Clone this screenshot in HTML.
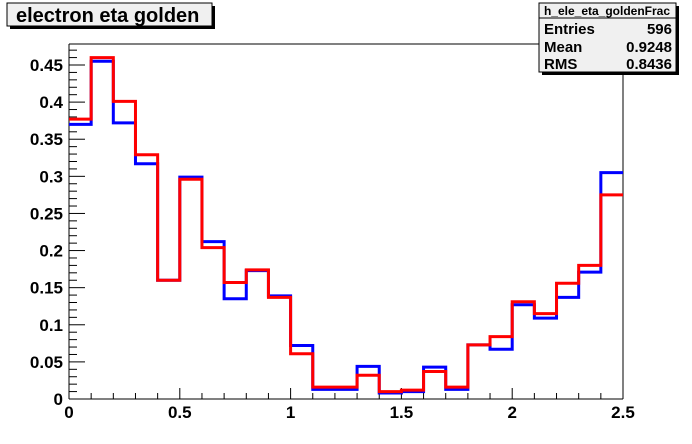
<!DOCTYPE html>
<html><head><meta charset="utf-8"><style>
body{margin:0;background:#fff;}
svg{display:block;font-family:"Liberation Sans",Arial,sans-serif;font-weight:bold;}
</style></head><body>
<svg width="692" height="444" viewBox="0 0 692 444">
<rect x="0" y="0" width="692" height="444" fill="#fff"/>
<g>
<line x1="69" y1="44" x2="623" y2="44" stroke="#000" stroke-width="1"/>
<line x1="623" y1="44" x2="623" y2="399" stroke="#000" stroke-width="1"/>
<line x1="69" y1="44" x2="69" y2="399" stroke="#000" stroke-width="1"/>
<line x1="69" y1="399" x2="623" y2="399" stroke="#000" stroke-width="1"/>
</g>
<g id="axes"></g>
<g id="series"></g>
<g>
<rect x="10" y="6" width="205" height="23" fill="#000"/>
<rect x="7" y="3" width="205" height="23" fill="#f0f0f0" stroke="#000" stroke-width="1"/>
<text x="16" y="22" font-size="20" fill="#000">electron eta golden</text>
</g>
<g>
<rect x="542" y="6" width="137" height="69" fill="#000"/>
<rect x="539" y="3" width="137" height="69" fill="#f0f0f0" stroke="#000" stroke-width="1"/>
<line x1="539" y1="18" x2="676" y2="18" stroke="#000"/>
<text x="607" y="15" font-size="12" text-anchor="middle">h_ele_eta_goldenFrac</text>
<text x="544" y="34" font-size="15">Entries</text>
<text x="672" y="34" font-size="15" text-anchor="end">596</text>
<text x="544" y="52" font-size="15">Mean</text>
<text x="672" y="52" font-size="15" text-anchor="end">0.9248</text>
<text x="544" y="69" font-size="15">RMS</text>
<text x="672" y="69" font-size="15" text-anchor="end">0.8436</text>
</g>
</svg>
<script>
const binEdgesStart = 0;
const binWidth = 0.1;
const blueValues = [0.37,0.455,0.372,0.317,0.16,0.299,0.212,0.135,0.173,0.139,0.072,0.013,0.013,0.044,0.008,0.01,0.043,0.013,0.073,0.067,0.127,0.109,0.137,0.171,0.305];
const redValues = [0.377,0.46,0.401,0.329,0.16,0.296,0.204,0.157,0.174,0.137,0.061,0.016,0.016,0.032,0.010,0.012,0.037,0.016,0.073,0.084,0.131,0.115,0.156,0.18,0.275];
const xTickLabels = ["0","0.5","1","1.5","2","2.5"];
const yTickLabels = ["0","0.05","0.1","0.15","0.2","0.25","0.3","0.35","0.4","0.45"];
const NS="http://www.w3.org/2000/svg";
const X0=69,X1=623,Y0=399,Y1=65;
function xs(v){return X0+(v-0)/2.5*(X1-X0);}
function ys(v){return Y0-v/0.45*(Y0-Y1);}
function mk(t,a){const e=document.createElementNS(NS,t);for(const k in a)e.setAttribute(k,a[k]);return e;}
const axes=document.getElementById('axes');
for(let i=0;i<=25;i++){
  const v=i*0.1, major=i%5===0;
  const l=mk('line',{x1:xs(v),x2:xs(v),y1:Y0,y2:Y0-(major?11:6),stroke:'#000'});
  
  
  axes.appendChild(l);
}
xTickLabels.forEach(s=>{
  const t=mk('text',{x:xs(parseFloat(s)),y:418,'font-size':17,'text-anchor':'middle'});
  t.textContent=s;
  
  
  axes.appendChild(t);
});
for(let i=0;i<=47;i++){
  const v=i*0.01; if(ys(v)<44) break;
  const major=i%5===0;
  const l=mk('line',{x1:X0,x2:X0+(major?16:8),y1:ys(v),y2:ys(v),stroke:'#000'});
  
  
  axes.appendChild(l);
}
yTickLabels.forEach(s=>{
  const t=mk('text',{x:63,y:ys(parseFloat(s))+6,'font-size':17,'text-anchor':'end'});
  t.textContent=s;
  
  
  axes.appendChild(t);
});
function stepPath(vals){
  let d='M'+xs(binEdgesStart)+','+ys(vals[0]);
  vals.forEach((v,i)=>{
    const a=binEdgesStart+i*binWidth;
    d+=' L'+xs(a)+','+ys(v)+' L'+xs(a+binWidth)+','+ys(v);
  });
  return d;
}
const ser=document.getElementById('series');
const pb=mk('path',{d:stepPath(blueValues),fill:'none',stroke:'#0000ff','stroke-width':3});


ser.appendChild(pb);
const pr=mk('path',{d:stepPath(redValues),fill:'none',stroke:'#ff0000','stroke-width':3});


ser.appendChild(pr);
</script>
</body></html>
